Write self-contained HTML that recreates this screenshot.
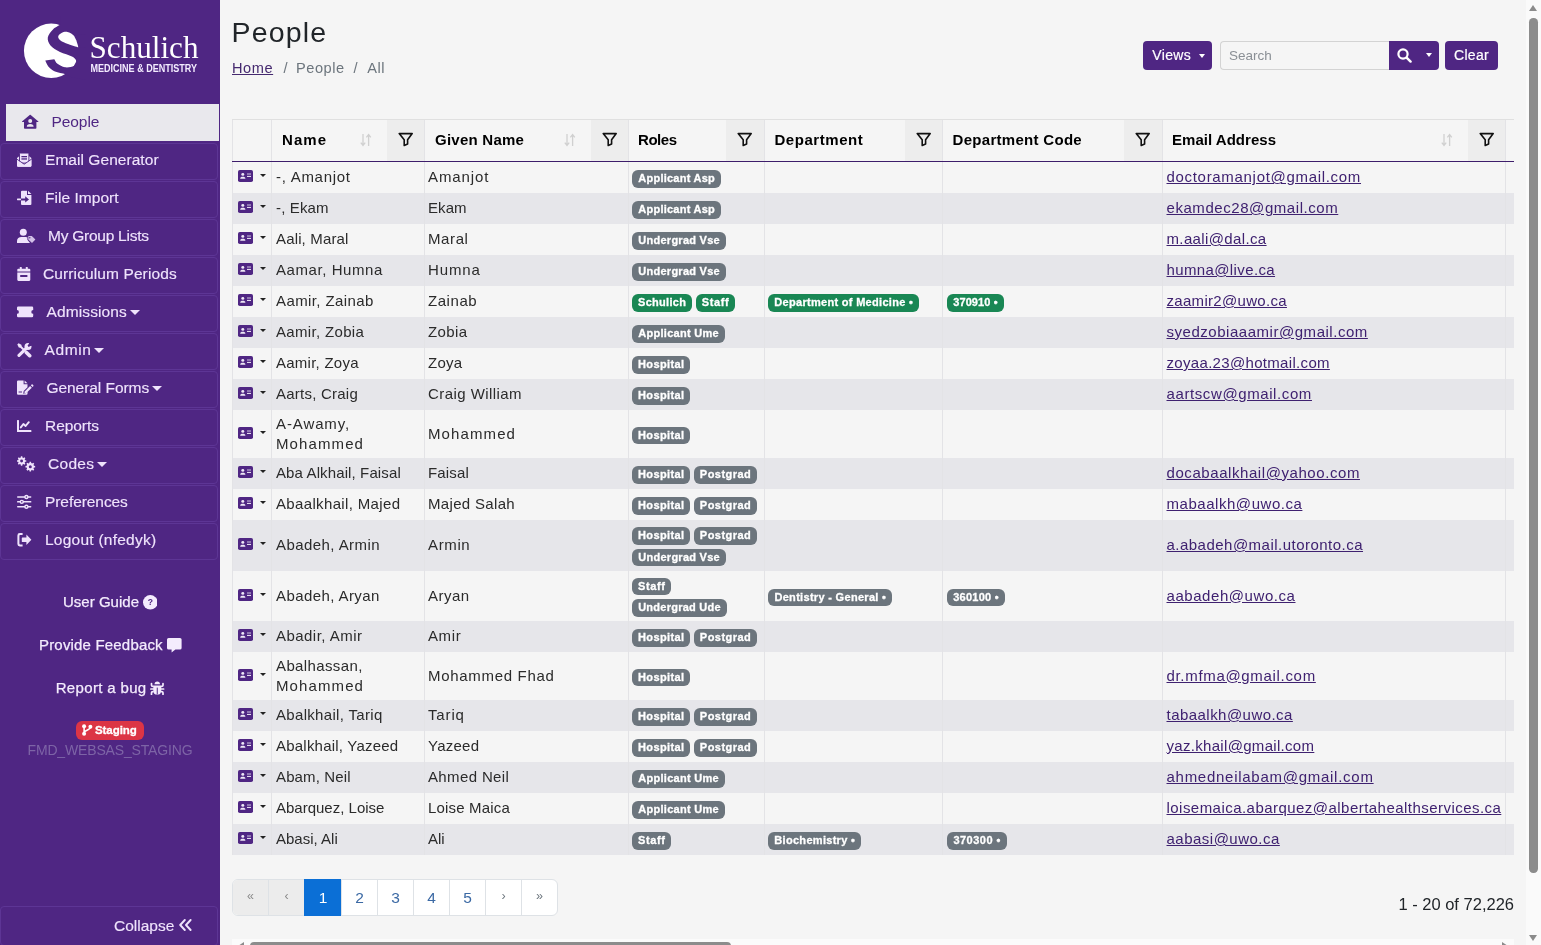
<!DOCTYPE html><html lang="en"><head><meta charset="utf-8"><title>People</title><style>
*{box-sizing:border-box}
html,body{margin:0;padding:0}
body{width:1541px;height:945px;overflow:hidden;position:relative;background:#f5f5f5;
 font-family:"Liberation Sans",sans-serif;font-size:16px;color:#212529}
svg{display:block}
#side{position:absolute;left:0;top:0;width:220px;height:945px;background:#4f2683}
#logo{position:absolute;left:0;top:0;width:220px;height:100px}
.nv{position:absolute;left:0;width:218px;height:37px;border:1px solid #5d3595;border-radius:4px;color:#efe3fc;font-size:15.5px}
.nv.act{left:6px;width:213px;background:#e9e8ed;border:0;border-radius:0;color:#4f2683;top:104px;height:37px}
.nv .ic{position:absolute;top:-2px}
.nv.act .ic{top:0}
.nv .tx{position:absolute;top:0;line-height:31px;white-space:nowrap;-webkit-text-stroke:0.15px currentColor}
.nv.act .tx{line-height:36px}
.nv.act .tx{-webkit-text-stroke:0}
.caret{display:inline-block;width:0;height:0;border-left:5px solid transparent;border-right:5px solid transparent;border-top:5.8px solid currentColor;margin-left:3px;vertical-align:2px}
.sl{position:absolute;color:#f4ecfd;font-size:15px;white-space:nowrap;-webkit-text-stroke:0.25px currentColor}
#main{position:absolute;left:220px;top:0;width:1306px;height:945px;background:#f5f5f5}
h1{position:absolute;left:11.5px;top:13px;margin:0;font-size:28.5px;font-weight:400;line-height:38px;color:#212529;white-space:nowrap;letter-spacing:1.15px}
#bc{position:absolute;left:12px;top:57px;font-size:14.6px;letter-spacing:0.55px;line-height:22px;color:#6c757d;white-space:nowrap}
#bc a{color:#45296f;text-decoration:underline}
.btn{position:absolute;top:41px;height:29px;background:#4f2683;color:#fff;border-radius:4px;font-size:14px;letter-spacing:0.3px;line-height:29px;text-align:center;white-space:nowrap;-webkit-text-stroke:0.2px #fff}
#search{position:absolute;left:1000px;top:41px;width:170px;height:29px;border:1px solid #d3d3d3;border-right:0;border-radius:4px 0 0 4px;background:#f5f5f5;color:#8a8f95;font-size:13.5px;line-height:27px;padding-left:8px}
table{position:absolute;left:12px;top:119px;border-collapse:collapse;table-layout:fixed;width:1281px}
th,td{padding:0;border-left:1px solid #e3e3e6;overflow:hidden}
thead th{height:42px;border-top:1px solid #e0e0e0;border-bottom:1px solid #3d1d6b;background:#f5f5f5;text-align:left;font-size:15px;font-weight:700;color:#000;position:relative;white-space:nowrap}
thead th.f{background:#ededed}
tbody tr:nth-child(even) td{background:#e6e6ea}
tbody td{font-size:15px;line-height:20px;color:#2b2b2b;vertical-align:middle;white-space:nowrap;position:relative}
td.p{padding-left:4px}
td a{color:#3f2170;text-decoration:underline}
.bd{display:inline-block;height:17.6px;line-height:17.4px;border-radius:6px;background:#6c757d;color:#fff;font-size:11px;font-weight:700;padding:0;margin-right:3.7px;vertical-align:top;text-align:center;-webkit-text-stroke:0.3px #fff}
.bd.g{background:#198754}
.bl{height:17.6px;margin:0 0 0 3px;white-space:nowrap;position:relative;top:1.8px}
.bl+.bl{margin-top:4px}
.fit{white-space:nowrap}
#pg{position:absolute;left:12px;top:879px;height:37px;width:326px;border:1px solid #dee2e6;border-radius:6px;background:#fff}
#pg span{position:absolute;top:0;height:35px;line-height:35px;text-align:center;font-size:15.5px;color:#3b69a4;border-left:1px solid #dee2e6}
#cnt{position:absolute;right:12px;top:893px;font-size:16.5px;line-height:22px;color:#212529;white-space:nowrap}
#vs{position:absolute;left:1526px;top:0;width:15px;height:945px;background:#fafafa}
#hs{position:absolute;left:232px;top:939px;width:1282px;height:6px;background:#fbfbfb;overflow:hidden}
</style></head><body>
<div id="side">
<div id="logo"><svg width="220" height="100" viewBox="0 0 220 100"><circle cx="51.2" cy="50.85" r="27.25" fill="#fff"/><path d="M60.6 24.6C59.3 25.4 55.1 27.4 53.0 29.5C50.9 31.6 48.2 34.8 47.8 37.5C47.4 40.2 48.5 43.1 50.5 45.5C52.5 47.9 56.4 50.2 60.0 52.0C63.6 53.8 69.3 55.0 72.0 56.5C74.7 58.0 75.9 59.4 76.2 61.0C76.5 62.6 75.9 65.0 74.0 66.0C72.1 67.0 67.8 67.7 65.0 67.3C62.2 66.9 59.3 65.1 57.5 63.8C55.7 62.4 54.8 60.0 54.3 59.2L45.3 60.6C45.8 61.6 46.9 65.0 48.5 66.8C50.1 68.6 52.2 70.3 55.0 71.5C57.8 72.7 62.8 73.3 65.5 74.2C68.2 75.1 70.1 76.5 71.0 77.0L86 80L86 47.3L78.6 47.5C76.8 46.9 71.0 45.2 68.0 44.0C65.0 42.8 62.1 41.8 60.5 40.5C58.9 39.2 58.0 37.8 58.2 36.5C58.4 35.2 60.0 33.8 61.5 33.0C63.0 32.2 65.4 31.6 67.5 32.0C69.6 32.4 73.1 34.8 74.2 35.4L86 34L86 16L60.6 16Z" fill="#4f2683"/><text x="89.5" y="58" font-family="'Liberation Serif',serif" font-size="32" fill="#fff" textLength="109" lengthAdjust="spacingAndGlyphs">Schulich</text><text x="90.5" y="72" font-family="'Liberation Sans',sans-serif" font-size="10.3" font-weight="700" fill="#f4ecff" textLength="106.5" lengthAdjust="spacingAndGlyphs">MEDICINE &amp; DENTISTRY</text></svg></div>
<div class="nv act"><span class="ic" style="left:16px"><svg width="17" height="38" viewBox="0 0 17 38" fill="currentColor" ><g transform="translate(-0.2,10.6)"><path d="M8.2 0.2 Q8.4 0 8.6 0.2 L16.6 7 Q16.8 7.4 16.4 7.4 L14.6 7.4 L14.6 13.4 Q14.6 14.2 13.8 14.2 L3 14.2 Q2.2 14.2 2.2 13.4 L2.2 7.4 L0.4 7.4 Q0 7.4 0.2 7 Z"/><circle cx="8.4" cy="6.5" r="2" fill="#e9e8ed"/><path d="M5 12.2 C5 10.2 6.2 9.4 8.4 9.4 C10.6 9.4 11.8 10.2 11.8 12.2 Z" fill="#e9e8ed"/></g></svg></span><span class="tx" style="left:45.5px"><span style="letter-spacing:-0.07px;margin-right:0.07px">People</span></span></div>
<div class="nv" style="top:143px"><span class="ic" style="left:16px"><svg width="15" height="38" viewBox="0 0 15 38" fill="currentColor" ><g transform="translate(0,10.8)"><path d="M0 5.2 L2.2 3.4 L12.2 3.4 L14.4 5.2 L14.4 12.8 Q14.4 14 13.2 14 L1.2 14 Q0 14 0 12.8 Z"/><rect x="2.5" y="0.3" width="9.4" height="10" rx="0.8" fill="currentColor" stroke="#4f2683" stroke-width="0.9"/><rect x="4.4" y="3.2" width="5.6" height="1.3" fill="#4f2683"/><rect x="4.4" y="5.5" width="5.6" height="1.3" fill="#4f2683"/><path d="M0 6.6 L7.2 11.6 L14.4 6.6 L14.4 12.8 Q14.4 14 13.2 14 L1.2 14 Q0 14 0 12.8 Z"/><path d="M-0.2 6.3 L7.2 11.4 L14.6 6.3" fill="none" stroke="#4f2683" stroke-width="0.9"/></g></svg></span><span class="tx" style="left:44px"><span style="letter-spacing:0.05px;margin-right:-0.05px">Email Generator</span></span></div>
<div class="nv" style="top:181px"><span class="ic" style="left:16px"><svg width="15" height="38" viewBox="0 0 15 38" fill="currentColor" ><g transform="translate(0,10.8)"><path d="M4 1 Q4 0 5 0 L10 0 L10 4.2 L14.4 4.2 L14.4 13.2 Q14.4 14.2 13.4 14.2 L5 14.2 Q4 14.2 4 13.2 L4 9.6 L8.2 9.6 L8.2 11.8 L12 8.6 L8.2 5.4 L8.2 7.6 L4 7.6 Z"/><path d="M11 0 L14.4 3.3 L11 3.3 Z"/><rect x="0" y="7.75" width="4" height="1.7" rx="0.4"/></g></svg></span><span class="tx" style="left:44px"><span style="letter-spacing:0.04px;margin-right:-0.04px">File Import</span></span></div>
<div class="nv" style="top:219px"><span class="ic" style="left:16px"><svg width="19" height="38" viewBox="0 0 19 38" fill="currentColor" ><g transform="translate(0,10.9)"><circle cx="6.3" cy="3.4" r="3.5"/><path d="M0 14.2 L0 12 C0 9.4 2 8 4.4 8 L8 8 C9.4 8 10.4 8.4 10.4 8.4 L10.4 10.8 L13 14.2 Z"/><path d="M11.3 7.2 L14.8 7.2 L18.4 10.7 L15 14.2 L11.3 10.6 Z" opacity="0.82"/><circle cx="12.8" cy="8.8" r="0.7" fill="#4f2683"/></g></svg></span><span class="tx" style="left:47px"><span style="letter-spacing:-0.25px;margin-right:0.25px">My Group Lists</span></span></div>
<div class="nv" style="top:257px"><span class="ic" style="left:16px"><svg width="14" height="38" viewBox="0 0 14 38" fill="currentColor" ><g transform="translate(0.3,11)"><rect x="2.5" y="0" width="2" height="3" rx="0.6"/><rect x="8.5" y="0" width="2" height="3" rx="0.6"/><path d="M0 2.8 Q0 1.7 1.1 1.7 L11.9 1.7 Q13 1.7 13 2.8 L13 4.5 L0 4.5 Z"/><path d="M0 5.5 L13 5.5 L13 12.8 Q13 13.9 11.9 13.9 L1.1 13.9 Q0 13.9 0 12.8 Z M2.9 8 L2.9 9.9 L10.1 9.9 L10.1 8 Z" fill-rule="evenodd"/></g></svg></span><span class="tx" style="left:42px"><span style="letter-spacing:0.11px;margin-right:-0.11px">Curriculum Periods</span></span></div>
<div class="nv" style="top:295px"><span class="ic" style="left:16px"><svg width="17" height="38" viewBox="0 0 17 38" fill="currentColor" ><g transform="translate(0,12.6)"><path d="M1.2 0 L15 0 Q16.2 0 16.2 1.2 L16.2 3.4 A1.9 1.9 0 0 0 16.2 7.2 L16.2 9.4 Q16.2 10.6 15 10.6 L1.2 10.6 Q0 10.6 0 9.4 L0 7.2 A1.9 1.9 0 0 0 0 3.4 L0 1.2 Q0 0 1.2 0 Z"/></g></svg></span><span class="tx" style="left:45.5px"><span style="letter-spacing:0.12px;margin-right:-0.12px">Admissions</span><i class="caret"></i></span></div>
<div class="nv" style="top:333px"><span class="ic" style="left:16px"><svg width="15" height="38" viewBox="0 0 15 38" fill="currentColor" ><g transform="translate(0,11)"><path d="M11.2 3.4 L2 12.4" stroke="currentColor" stroke-width="3.1" stroke-linecap="round" fill="none"/><circle cx="11" cy="3.4" r="3.5"/><path d="M11.4 3 L15 -0.6 L12.4 -1.4 Z M11 3.4 L14.6 -0.2 L15.6 2.6 Z" fill="#4f2683"/><path d="M11.2 3.2 L14.4 0" stroke="#4f2683" stroke-width="2" fill="none"/><path d="M0.3 1.6 L1.6 0.3 L4.4 1.8 L4.7 3.3 L7.6 6.2 L6.2 7.6 L3.3 4.7 L1.8 4.4 Z"/><path d="M9.4 9.4 L12.7 12.7" stroke="currentColor" stroke-width="3.6" stroke-linecap="round" fill="none"/></g></svg></span><span class="tx" style="left:43.5px"><span style="letter-spacing:0.62px;margin-right:-0.62px">Admin</span><i class="caret"></i></span></div>
<div class="nv" style="top:371px"><span class="ic" style="left:16px"><svg width="17" height="38" viewBox="0 0 17 38" fill="currentColor" ><g transform="translate(0,10.5)"><path d="M0 1.1 Q0 0 1.1 0 L6.6 0 L6.6 3.8 L10.5 3.8 L10.5 6.7 L6.7 10.5 L6.2 13.2 L8.9 12.7 L10.5 11.1 L10.5 13.2 Q10.5 14.3 9.4 14.3 L1.1 14.3 Q0 14.3 0 13.2 Z M1.6 11 L1.6 11.9 L5 11.9 L5 11 Z" fill-rule="evenodd"/><path d="M7.6 0 L10.5 2.8 L7.6 2.8 Z"/><path d="M7.7 10.9 L13.1 5.5 L14.8 7.2 L9.4 12.6 L7.4 12.9 Z"/><path d="M13.8 4.8 L14.6 4 Q15.1 3.5 15.6 4 L16.3 4.7 Q16.8 5.2 16.3 5.7 L15.5 6.5 Z"/></g></svg></span><span class="tx" style="left:45.5px"><span style="letter-spacing:-0.06px;margin-right:0.06px">General Forms</span><i class="caret"></i></span></div>
<div class="nv" style="top:409px"><span class="ic" style="left:16px"><svg width="15" height="38" viewBox="0 0 15 38" fill="currentColor" ><g transform="translate(0,12)"><path d="M0 0.6 Q0 0 0.6 0 L1.4 0 Q2 0 2 0.6 L2 10 L13.8 10 Q14.4 10 14.4 10.6 L14.4 11.4 Q14.4 12 13.8 12 L0 12 Z"/><path d="M3.8 7.4 L6.4 4 L8.6 6 L11.8 2.2" fill="none" stroke="currentColor" stroke-width="1.9" stroke-linecap="round" stroke-linejoin="round"/></g></svg></span><span class="tx" style="left:44px"><span style="letter-spacing:-0.05px;margin-right:0.05px">Reports</span></span></div>
<div class="nv" style="top:447px"><span class="ic" style="left:16px"><svg width="19" height="38" viewBox="0 0 19 38" fill="currentColor" ><g transform="translate(0,10.5)"><path d="M9.25 3.80 L9.25 5.20 L8.07 5.36 L7.66 6.34 L8.38 7.29 L7.39 8.28 L6.44 7.56 L5.46 7.97 L5.30 9.15 L3.90 9.15 L3.74 7.97 L2.76 7.56 L1.81 8.28 L0.82 7.29 L1.54 6.34 L1.13 5.36 L-0.05 5.20 L-0.05 3.80 L1.13 3.64 L1.54 2.66 L0.82 1.71 L1.81 0.72 L2.76 1.44 L3.74 1.03 L3.90 -0.15 L5.30 -0.15 L5.46 1.03 L6.44 1.44 L7.39 0.72 L8.38 1.71 L7.66 2.66 L8.07 3.64 Z"/><circle cx="4.6" cy="4.5" r="1.45" fill="#4f2683"/><path d="M18.14 9.47 L18.14 10.93 L16.91 11.09 L16.49 12.12 L17.24 13.11 L16.21 14.14 L15.22 13.39 L14.19 13.81 L14.03 15.04 L12.57 15.04 L12.41 13.81 L11.38 13.39 L10.39 14.14 L9.36 13.11 L10.11 12.12 L9.69 11.09 L8.46 10.93 L8.46 9.47 L9.69 9.31 L10.11 8.28 L9.36 7.29 L10.39 6.26 L11.38 7.01 L12.41 6.59 L12.57 5.36 L14.03 5.36 L14.19 6.59 L15.22 7.01 L16.21 6.26 L17.24 7.29 L16.49 8.28 L16.91 9.31 Z"/><circle cx="13.3" cy="10.2" r="1.5" fill="#4f2683"/></g></svg></span><span class="tx" style="left:47px"><span style="letter-spacing:0.30px;margin-right:-0.30px">Codes</span><i class="caret"></i></span></div>
<div class="nv" style="top:485px"><span class="ic" style="left:16px"><svg width="15" height="38" viewBox="0 0 15 38" fill="currentColor" ><g transform="translate(0,10.7)"><rect x="0" y="1.5" width="14.4" height="1.5" rx="0.7"/><rect x="0" y="6.4" width="14.4" height="1.5" rx="0.7"/><rect x="0" y="11.3" width="14.4" height="1.5" rx="0.7"/><circle cx="9.4" cy="2.25" r="2.2"/><circle cx="4.8" cy="7.15" r="2.2"/><circle cx="9.4" cy="12.05" r="2.2"/><circle cx="9.4" cy="2.25" r="0.8" fill="#4f2683"/><circle cx="4.8" cy="7.15" r="0.8" fill="#4f2683"/><circle cx="9.4" cy="12.05" r="0.8" fill="#4f2683"/></g></svg></span><span class="tx" style="left:44px"><span style="letter-spacing:-0.07px;margin-right:0.07px">Preferences</span></span></div>
<div class="nv" style="top:523px"><span class="ic" style="left:16px"><svg width="15" height="38" viewBox="0 0 15 38" fill="currentColor" ><g transform="translate(0.4,11)"><path d="M5.2 0 L5.2 2 L2.7 2 Q2 2 2 2.7 L2 10.7 Q2 11.4 2.7 11.4 L5.2 11.4 L5.2 13.4 L2.4 13.4 Q0 13.4 0 11 L0 2.4 Q0 0 2.4 0 Z"/><path d="M9 1.4 L14 6.7 L9 12 L9 9 L5 9 Q4.4 9 4.4 8.4 L4.4 5 Q4.4 4.4 5 4.4 L9 4.4 Z"/></g></svg></span><span class="tx" style="left:44px"><span style="letter-spacing:0.24px;margin-right:-0.24px">Logout (nfedyk)</span></span></div>
<div class="sl" style="top:591px;left:63px;line-height:22px"><span style="letter-spacing:0.02px;margin-right:-0.02px">User Guide</span></div><span style="position:absolute;left:142.7px;top:595px;color:#f4ecfd"><svg width="14.6" height="14.6" viewBox="0 0 14.6 14.6" fill="currentColor" ><circle cx="7.3" cy="7.3" r="7.3"/><text x="7.3" y="10.4" text-anchor="middle" font-family="'Liberation Sans',sans-serif" font-size="8.6" font-weight="700" fill="#4f2683">?</text></svg></span>
<div class="sl" style="top:634px;left:39px;line-height:22px"><span style="letter-spacing:0.18px;margin-right:-0.18px">Provide Feedback</span></div><span style="position:absolute;left:166.7px;top:637.7px;color:#f4ecfd"><svg width="15" height="15" viewBox="0 0 15 15" fill="currentColor" ><path d="M1.6 0 L13 0 Q14.6 0 14.6 1.6 L14.6 10 Q14.6 11.6 13 11.6 L8.4 11.6 L4.6 14.4 L4.6 11.6 L1.6 11.6 Q0 11.6 0 10 L0 1.6 Q0 0 1.6 0 Z"/></svg></span>
<div class="sl" style="top:677px;left:55.7px;line-height:22px"><span style="letter-spacing:0.34px;margin-right:-0.34px">Report a bug</span></div><span style="position:absolute;left:149.7px;top:681.4px;color:#f4ecfd"><svg width="15" height="14" viewBox="0 0 15 14" fill="currentColor" ><path d="M4.5 3.3 A2.75 2.9 0 0 1 10 3.3 Z"/><path d="M3.3 4.4 L11.2 4.4 L11.2 9.4 A3.95 4.2 0 0 1 3.3 9.4 Z"/><path d="M0.9 8 L13.6 8 M1.5 2.6 L1.5 4.2 Q1.5 5.4 3 5.4 M13 2.6 L13 4.2 Q13 5.4 11.5 5.4 M1.5 13.4 L1.5 11.8 Q1.5 10.6 3 10.6 M13 13.4 L13 11.8 Q13 10.6 11.5 10.6" stroke="currentColor" stroke-width="1.7" stroke-linecap="round" fill="none"/><rect x="6.75" y="6.6" width="1" height="6.6" fill="#4f2683"/></svg></span>
<div style="position:absolute;left:76.3px;top:721.3px;width:67.4px;height:19px;border-radius:6px;background:#dc3545;color:#fff;font-size:11.5px;font-weight:700;line-height:18px;white-space:nowrap;-webkit-text-stroke:0.3px #fff"><span style="position:absolute;left:6px;top:2.6px"><svg width="10.5" height="12" viewBox="0 0 10 11.2" fill="currentColor" ><circle cx="2" cy="2" r="1.9"/><circle cx="2" cy="9.2" r="1.9"/><circle cx="8" cy="2.6" r="1.9"/><path d="M2 2 L2 9 M8 2.6 C8 6.4 2 5.2 2 8.4" stroke="currentColor" stroke-width="1.5" fill="none"/></svg></span><span style="position:absolute;left:18.6px;top:0"><span style="letter-spacing:-0.03px;margin-right:0.03px">Staging</span></span></div>
<div style="position:absolute;left:27.5px;top:740px;color:#7d64a6;font-size:14px;line-height:20px;white-space:nowrap"><span style="letter-spacing:-0.16px;margin-right:0.16px">FMD_WEBSAS_STAGING</span></div>
<div class="nv" style="top:906px;height:40px"><span class="tx" style="left:113px;line-height:38px">Collapse</span><span class="ic" style="left:178.3px;top:11.6px"><svg width="13" height="12" viewBox="0 0 13 12" fill="currentColor" ><path d="M5.8 1 L1.2 6 L5.8 11 M11.6 1 L7 6 L11.6 11" stroke="currentColor" stroke-width="1.9" fill="none" stroke-linecap="round" stroke-linejoin="round"/></svg></span></div>
</div>
<div id="main">
<h1>People</h1>
<div id="bc"><a>Home</a><span style="position:absolute;left:51.4px">/</span><span style="position:absolute;left:64px">People</span><span style="position:absolute;left:121.5px">/</span><span style="position:absolute;left:135.3px">All</span></div>
<div class="btn" style="left:923px;width:69px;padding-left:2px">Views <i class="caret" style="border-left-width:3.3px;border-right-width:3.3px;border-top-width:4px;vertical-align:2px;margin-left:3.5px"></i></div>
<div id="search">Search</div>
<div class="btn" style="left:1169px;width:50px;border-radius:0 4px 4px 0"><span style="position:absolute;left:8px;top:7px"><svg width="15" height="15" viewBox="0 0 15 15" fill="currentColor" ><circle cx="6" cy="6" r="4.6" fill="none" stroke="#fff" stroke-width="2.2"/><path d="M9.6 9.6 L13.6 13.6" stroke="#fff" stroke-width="2.4" stroke-linecap="round"/></svg></span><i class="caret" style="position:absolute;left:36.7px;top:12px;margin:0;border-left-width:3.5px;border-right-width:3.5px;border-top-width:4px"></i></div>
<div class="btn" style="left:1225px;width:53px">Clear</div>
<table><colgroup><col style="width:39px"><col style="width:115px"><col style="width:38px"><col style="width:166px"><col style="width:38px"><col style="width:97px"><col style="width:39px"><col style="width:140px"><col style="width:38px"><col style="width:181px"><col style="width:39px"><col style="width:305px"><col style="width:38px"><col style="width:8px"></colgroup>
<thead><tr><th></th><th><span style="position:absolute;left:10px;top:0;line-height:39px"><span style="letter-spacing:1.05px;margin-right:-1.05px">Name</span></span><span style="position:absolute;right:15px;top:13px"><svg width="12" height="14" viewBox="0 0 12 14" fill="currentColor" ><path d="M3 1 L3 12 M0.8 9.6 L3 12.4 L5.2 9.6" stroke="#d0d0d0" stroke-width="1.3" fill="none"/><path d="M8.6 13 L8.6 2 M6.4 4.4 L8.6 1.6 L10.8 4.4" stroke="#d0d0d0" stroke-width="1.3" fill="none"/></svg></span></th><th class="f" style="border-left:0"><span style="position:absolute;left:11.4px;top:12px"><svg width="16" height="16" viewBox="0 0 16 16" fill="currentColor" ><path d="M1.2 1.6 L14.2 1.6 L9.6 7.8 L9.6 12 L6.2 13.4 L6.2 7.8 Z" stroke="#111" stroke-width="1.6" fill="none" stroke-linejoin="round"/></svg></span></th><th><span style="position:absolute;left:10px;top:0;line-height:39px"><span style="letter-spacing:0.25px;margin-right:-0.25px">Given Name</span></span><span style="position:absolute;right:15px;top:13px"><svg width="12" height="14" viewBox="0 0 12 14" fill="currentColor" ><path d="M3 1 L3 12 M0.8 9.6 L3 12.4 L5.2 9.6" stroke="#d0d0d0" stroke-width="1.3" fill="none"/><path d="M8.6 13 L8.6 2 M6.4 4.4 L8.6 1.6 L10.8 4.4" stroke="#d0d0d0" stroke-width="1.3" fill="none"/></svg></span></th><th class="f" style="border-left:0"><span style="position:absolute;left:11.4px;top:12px"><svg width="16" height="16" viewBox="0 0 16 16" fill="currentColor" ><path d="M1.2 1.6 L14.2 1.6 L9.6 7.8 L9.6 12 L6.2 13.4 L6.2 7.8 Z" stroke="#111" stroke-width="1.6" fill="none" stroke-linejoin="round"/></svg></span></th><th><span style="position:absolute;left:9px;top:0;line-height:39px"><span style="letter-spacing:-0.44px;margin-right:0.44px">Roles</span></span></th><th class="f" style="border-left:0"><span style="position:absolute;left:11.9px;top:12px"><svg width="16" height="16" viewBox="0 0 16 16" fill="currentColor" ><path d="M1.2 1.6 L14.2 1.6 L9.6 7.8 L9.6 12 L6.2 13.4 L6.2 7.8 Z" stroke="#111" stroke-width="1.6" fill="none" stroke-linejoin="round"/></svg></span></th><th><span style="position:absolute;left:9.5px;top:0;line-height:39px"><span style="letter-spacing:0.54px;margin-right:-0.54px">Department</span></span></th><th class="f" style="border-left:0"><span style="position:absolute;left:11.4px;top:12px"><svg width="16" height="16" viewBox="0 0 16 16" fill="currentColor" ><path d="M1.2 1.6 L14.2 1.6 L9.6 7.8 L9.6 12 L6.2 13.4 L6.2 7.8 Z" stroke="#111" stroke-width="1.6" fill="none" stroke-linejoin="round"/></svg></span></th><th><span style="position:absolute;left:9.5px;top:0;line-height:39px"><span style="letter-spacing:0.30px;margin-right:-0.30px">Department Code</span></span></th><th class="f" style="border-left:0"><span style="position:absolute;left:11.9px;top:12px"><svg width="16" height="16" viewBox="0 0 16 16" fill="currentColor" ><path d="M1.2 1.6 L14.2 1.6 L9.6 7.8 L9.6 12 L6.2 13.4 L6.2 7.8 Z" stroke="#111" stroke-width="1.6" fill="none" stroke-linejoin="round"/></svg></span></th><th><span style="position:absolute;left:9px;top:0;line-height:39px"><span style="letter-spacing:0.03px;margin-right:-0.03px">Email Address</span></span><span style="position:absolute;right:15px;top:13px"><svg width="12" height="14" viewBox="0 0 12 14" fill="currentColor" ><path d="M3 1 L3 12 M0.8 9.6 L3 12.4 L5.2 9.6" stroke="#d0d0d0" stroke-width="1.3" fill="none"/><path d="M8.6 13 L8.6 2 M6.4 4.4 L8.6 1.6 L10.8 4.4" stroke="#d0d0d0" stroke-width="1.3" fill="none"/></svg></span></th><th class="f" style="border-left:0"><span style="position:absolute;left:11.4px;top:12px"><svg width="16" height="16" viewBox="0 0 16 16" fill="currentColor" ><path d="M1.2 1.6 L14.2 1.6 L9.6 7.8 L9.6 12 L6.2 13.4 L6.2 7.8 Z" stroke="#111" stroke-width="1.6" fill="none" stroke-linejoin="round"/></svg></span></th><th></th></tr></thead><tbody>
<tr style="height:31px"><td><span style="position:absolute;left:5px;top:50%;margin-top:-7px"><svg width="15" height="12" viewBox="0 0 15 13" fill="currentColor" preserveAspectRatio="none"><rect x="0" y="0" width="15" height="13" rx="1.8" fill="#4f2683"/><circle cx="4.8" cy="4.8" r="1.5" fill="#efeaf6"/><path d="M2.2 9.6 C2.2 8 3.2 7.4 4.8 7.4 C6.4 7.4 7.4 8 7.4 9.6 Z" fill="#efeaf6"/><rect x="9" y="3.8" width="4" height="1.1" fill="#efeaf6" opacity="0.8"/><rect x="9" y="6.4" width="4" height="1.1" fill="#efeaf6"/></svg></span><i class="caret" style="position:absolute;left:27px;top:50%;margin:-3px 0 0 0;border-left-width:3px;border-right-width:3px;border-top-width:3.5px;color:#222"></i></td><td class="p" colspan="2"><span style="letter-spacing:0.72px;margin-right:-0.72px">-, Amanjot</span></td><td class="p" colspan="2" style="padding-left:3px"><span style="letter-spacing:0.88px;margin-right:-0.88px">Amanjot</span></td><td colspan="2"><div class="bl"><span class="bd" style="width:89px"><span style="letter-spacing:0.24px;margin-right:-0.24px">Applicant Asp</span></span></div></td><td colspan="2"></td><td colspan="2"></td><td class="p" colspan="2" style="padding-left:3.5px"><a><span style="letter-spacing:0.69px;margin-right:-0.69px">doctoramanjot@gmail.com</span></a></td><td></td></tr>
<tr style="height:31px"><td><span style="position:absolute;left:5px;top:50%;margin-top:-7px"><svg width="15" height="12" viewBox="0 0 15 13" fill="currentColor" preserveAspectRatio="none"><rect x="0" y="0" width="15" height="13" rx="1.8" fill="#4f2683"/><circle cx="4.8" cy="4.8" r="1.5" fill="#efeaf6"/><path d="M2.2 9.6 C2.2 8 3.2 7.4 4.8 7.4 C6.4 7.4 7.4 8 7.4 9.6 Z" fill="#efeaf6"/><rect x="9" y="3.8" width="4" height="1.1" fill="#efeaf6" opacity="0.8"/><rect x="9" y="6.4" width="4" height="1.1" fill="#efeaf6"/></svg></span><i class="caret" style="position:absolute;left:27px;top:50%;margin:-3px 0 0 0;border-left-width:3px;border-right-width:3px;border-top-width:3.5px;color:#222"></i></td><td class="p" colspan="2"><span style="letter-spacing:0.15px;margin-right:-0.15px">-, Ekam</span></td><td class="p" colspan="2" style="padding-left:3px"><span style="letter-spacing:0.09px;margin-right:-0.09px">Ekam</span></td><td colspan="2"><div class="bl"><span class="bd" style="width:89px"><span style="letter-spacing:0.24px;margin-right:-0.24px">Applicant Asp</span></span></div></td><td colspan="2"></td><td colspan="2"></td><td class="p" colspan="2" style="padding-left:3.5px"><a><span style="letter-spacing:0.56px;margin-right:-0.56px">ekamdec28@gmail.com</span></a></td><td></td></tr>
<tr style="height:31px"><td><span style="position:absolute;left:5px;top:50%;margin-top:-7px"><svg width="15" height="12" viewBox="0 0 15 13" fill="currentColor" preserveAspectRatio="none"><rect x="0" y="0" width="15" height="13" rx="1.8" fill="#4f2683"/><circle cx="4.8" cy="4.8" r="1.5" fill="#efeaf6"/><path d="M2.2 9.6 C2.2 8 3.2 7.4 4.8 7.4 C6.4 7.4 7.4 8 7.4 9.6 Z" fill="#efeaf6"/><rect x="9" y="3.8" width="4" height="1.1" fill="#efeaf6" opacity="0.8"/><rect x="9" y="6.4" width="4" height="1.1" fill="#efeaf6"/></svg></span><i class="caret" style="position:absolute;left:27px;top:50%;margin:-3px 0 0 0;border-left-width:3px;border-right-width:3px;border-top-width:3.5px;color:#222"></i></td><td class="p" colspan="2"><span style="letter-spacing:0.15px;margin-right:-0.15px">Aali, Maral</span></td><td class="p" colspan="2" style="padding-left:3px"><span style="letter-spacing:0.60px;margin-right:-0.60px">Maral</span></td><td colspan="2"><div class="bl"><span class="bd" style="width:94px"><span style="letter-spacing:0.27px;margin-right:-0.27px">Undergrad Vse</span></span></div></td><td colspan="2"></td><td colspan="2"></td><td class="p" colspan="2" style="padding-left:3.5px"><a><span style="letter-spacing:0.37px;margin-right:-0.37px">m.aali@dal.ca</span></a></td><td></td></tr>
<tr style="height:31px"><td><span style="position:absolute;left:5px;top:50%;margin-top:-7px"><svg width="15" height="12" viewBox="0 0 15 13" fill="currentColor" preserveAspectRatio="none"><rect x="0" y="0" width="15" height="13" rx="1.8" fill="#4f2683"/><circle cx="4.8" cy="4.8" r="1.5" fill="#efeaf6"/><path d="M2.2 9.6 C2.2 8 3.2 7.4 4.8 7.4 C6.4 7.4 7.4 8 7.4 9.6 Z" fill="#efeaf6"/><rect x="9" y="3.8" width="4" height="1.1" fill="#efeaf6" opacity="0.8"/><rect x="9" y="6.4" width="4" height="1.1" fill="#efeaf6"/></svg></span><i class="caret" style="position:absolute;left:27px;top:50%;margin:-3px 0 0 0;border-left-width:3px;border-right-width:3px;border-top-width:3.5px;color:#222"></i></td><td class="p" colspan="2"><span style="letter-spacing:0.57px;margin-right:-0.57px">Aamar, Humna</span></td><td class="p" colspan="2" style="padding-left:3px"><span style="letter-spacing:0.86px;margin-right:-0.86px">Humna</span></td><td colspan="2"><div class="bl"><span class="bd" style="width:94px"><span style="letter-spacing:0.27px;margin-right:-0.27px">Undergrad Vse</span></span></div></td><td colspan="2"></td><td colspan="2"></td><td class="p" colspan="2" style="padding-left:3.5px"><a><span style="letter-spacing:0.38px;margin-right:-0.38px">humna@live.ca</span></a></td><td></td></tr>
<tr style="height:31px"><td><span style="position:absolute;left:5px;top:50%;margin-top:-7px"><svg width="15" height="12" viewBox="0 0 15 13" fill="currentColor" preserveAspectRatio="none"><rect x="0" y="0" width="15" height="13" rx="1.8" fill="#4f2683"/><circle cx="4.8" cy="4.8" r="1.5" fill="#efeaf6"/><path d="M2.2 9.6 C2.2 8 3.2 7.4 4.8 7.4 C6.4 7.4 7.4 8 7.4 9.6 Z" fill="#efeaf6"/><rect x="9" y="3.8" width="4" height="1.1" fill="#efeaf6" opacity="0.8"/><rect x="9" y="6.4" width="4" height="1.1" fill="#efeaf6"/></svg></span><i class="caret" style="position:absolute;left:27px;top:50%;margin:-3px 0 0 0;border-left-width:3px;border-right-width:3px;border-top-width:3.5px;color:#222"></i></td><td class="p" colspan="2"><span style="letter-spacing:0.40px;margin-right:-0.40px">Aamir, Zainab</span></td><td class="p" colspan="2" style="padding-left:3px"><span style="letter-spacing:0.55px;margin-right:-0.55px">Zainab</span></td><td colspan="2"><div class="bl"><span class="bd g" style="width:60px"><span style="letter-spacing:0.31px;margin-right:-0.31px">Schulich</span></span><span class="bd g" style="width:39px"><span style="letter-spacing:0.64px;margin-right:-0.64px">Staff</span></span></div></td><td colspan="2"><div class="bl"><span class="bd g" style="width:151.2px"><span style="letter-spacing:0.30px;margin-right:-0.30px">Department of Medicine •</span></span></div></td><td colspan="2"><div class="bl" style="margin-left:3.9px"><span class="bd g" style="width:57px"><span style="letter-spacing:0.12px;margin-right:-0.12px">370910 •</span></span></div></td><td class="p" colspan="2" style="padding-left:3.5px"><a><span style="letter-spacing:0.31px;margin-right:-0.31px">zaamir2@uwo.ca</span></a></td><td></td></tr>
<tr style="height:31px"><td><span style="position:absolute;left:5px;top:50%;margin-top:-7px"><svg width="15" height="12" viewBox="0 0 15 13" fill="currentColor" preserveAspectRatio="none"><rect x="0" y="0" width="15" height="13" rx="1.8" fill="#4f2683"/><circle cx="4.8" cy="4.8" r="1.5" fill="#efeaf6"/><path d="M2.2 9.6 C2.2 8 3.2 7.4 4.8 7.4 C6.4 7.4 7.4 8 7.4 9.6 Z" fill="#efeaf6"/><rect x="9" y="3.8" width="4" height="1.1" fill="#efeaf6" opacity="0.8"/><rect x="9" y="6.4" width="4" height="1.1" fill="#efeaf6"/></svg></span><i class="caret" style="position:absolute;left:27px;top:50%;margin:-3px 0 0 0;border-left-width:3px;border-right-width:3px;border-top-width:3.5px;color:#222"></i></td><td class="p" colspan="2"><span style="letter-spacing:0.33px;margin-right:-0.33px">Aamir, Zobia</span></td><td class="p" colspan="2" style="padding-left:3px"><span style="letter-spacing:0.39px;margin-right:-0.39px">Zobia</span></td><td colspan="2"><div class="bl"><span class="bd" style="width:93px"><span style="letter-spacing:0.29px;margin-right:-0.29px">Applicant Ume</span></span></div></td><td colspan="2"></td><td colspan="2"></td><td class="p" colspan="2" style="padding-left:3.5px"><a><span style="letter-spacing:0.53px;margin-right:-0.53px">syedzobiaaamir@gmail.com</span></a></td><td></td></tr>
<tr style="height:31px"><td><span style="position:absolute;left:5px;top:50%;margin-top:-7px"><svg width="15" height="12" viewBox="0 0 15 13" fill="currentColor" preserveAspectRatio="none"><rect x="0" y="0" width="15" height="13" rx="1.8" fill="#4f2683"/><circle cx="4.8" cy="4.8" r="1.5" fill="#efeaf6"/><path d="M2.2 9.6 C2.2 8 3.2 7.4 4.8 7.4 C6.4 7.4 7.4 8 7.4 9.6 Z" fill="#efeaf6"/><rect x="9" y="3.8" width="4" height="1.1" fill="#efeaf6" opacity="0.8"/><rect x="9" y="6.4" width="4" height="1.1" fill="#efeaf6"/></svg></span><i class="caret" style="position:absolute;left:27px;top:50%;margin:-3px 0 0 0;border-left-width:3px;border-right-width:3px;border-top-width:3.5px;color:#222"></i></td><td class="p" colspan="2"><span style="letter-spacing:0.25px;margin-right:-0.25px">Aamir, Zoya</span></td><td class="p" colspan="2" style="padding-left:3px"><span style="letter-spacing:0.25px;margin-right:-0.25px">Zoya</span></td><td colspan="2"><div class="bl"><span class="bd" style="width:58px"><span style="letter-spacing:0.37px;margin-right:-0.37px">Hospital</span></span></div></td><td colspan="2"></td><td colspan="2"></td><td class="p" colspan="2" style="padding-left:3.5px"><a><span style="letter-spacing:0.32px;margin-right:-0.32px">zoyaa.23@hotmail.com</span></a></td><td></td></tr>
<tr style="height:31px"><td><span style="position:absolute;left:5px;top:50%;margin-top:-7px"><svg width="15" height="12" viewBox="0 0 15 13" fill="currentColor" preserveAspectRatio="none"><rect x="0" y="0" width="15" height="13" rx="1.8" fill="#4f2683"/><circle cx="4.8" cy="4.8" r="1.5" fill="#efeaf6"/><path d="M2.2 9.6 C2.2 8 3.2 7.4 4.8 7.4 C6.4 7.4 7.4 8 7.4 9.6 Z" fill="#efeaf6"/><rect x="9" y="3.8" width="4" height="1.1" fill="#efeaf6" opacity="0.8"/><rect x="9" y="6.4" width="4" height="1.1" fill="#efeaf6"/></svg></span><i class="caret" style="position:absolute;left:27px;top:50%;margin:-3px 0 0 0;border-left-width:3px;border-right-width:3px;border-top-width:3.5px;color:#222"></i></td><td class="p" colspan="2"><span style="letter-spacing:0.23px;margin-right:-0.23px">Aarts, Craig</span></td><td class="p" colspan="2" style="padding-left:3px"><span style="letter-spacing:0.44px;margin-right:-0.44px">Craig William</span></td><td colspan="2"><div class="bl"><span class="bd" style="width:58px"><span style="letter-spacing:0.37px;margin-right:-0.37px">Hospital</span></span></div></td><td colspan="2"></td><td colspan="2"></td><td class="p" colspan="2" style="padding-left:3.5px"><a><span style="letter-spacing:0.60px;margin-right:-0.60px">aartscw@gmail.com</span></a></td><td></td></tr>
<tr style="height:48px"><td><span style="position:absolute;left:5px;top:50%;margin-top:-7px"><svg width="15" height="12" viewBox="0 0 15 13" fill="currentColor" preserveAspectRatio="none"><rect x="0" y="0" width="15" height="13" rx="1.8" fill="#4f2683"/><circle cx="4.8" cy="4.8" r="1.5" fill="#efeaf6"/><path d="M2.2 9.6 C2.2 8 3.2 7.4 4.8 7.4 C6.4 7.4 7.4 8 7.4 9.6 Z" fill="#efeaf6"/><rect x="9" y="3.8" width="4" height="1.1" fill="#efeaf6" opacity="0.8"/><rect x="9" y="6.4" width="4" height="1.1" fill="#efeaf6"/></svg></span><i class="caret" style="position:absolute;left:27px;top:50%;margin:-3px 0 0 0;border-left-width:3px;border-right-width:3px;border-top-width:3.5px;color:#222"></i></td><td class="p" colspan="2"><span style="letter-spacing:0.89px;margin-right:-0.89px">A-Awamy,</span><br><span style="letter-spacing:1.11px;margin-right:-1.11px">Mohammed</span></td><td class="p" colspan="2" style="padding-left:3px"><span style="letter-spacing:1.11px;margin-right:-1.11px">Mohammed</span></td><td colspan="2"><div class="bl"><span class="bd" style="width:58px"><span style="letter-spacing:0.37px;margin-right:-0.37px">Hospital</span></span></div></td><td colspan="2"></td><td colspan="2"></td><td class="p" colspan="2" style="padding-left:3.5px"></td><td></td></tr>
<tr style="height:31px"><td><span style="position:absolute;left:5px;top:50%;margin-top:-7px"><svg width="15" height="12" viewBox="0 0 15 13" fill="currentColor" preserveAspectRatio="none"><rect x="0" y="0" width="15" height="13" rx="1.8" fill="#4f2683"/><circle cx="4.8" cy="4.8" r="1.5" fill="#efeaf6"/><path d="M2.2 9.6 C2.2 8 3.2 7.4 4.8 7.4 C6.4 7.4 7.4 8 7.4 9.6 Z" fill="#efeaf6"/><rect x="9" y="3.8" width="4" height="1.1" fill="#efeaf6" opacity="0.8"/><rect x="9" y="6.4" width="4" height="1.1" fill="#efeaf6"/></svg></span><i class="caret" style="position:absolute;left:27px;top:50%;margin:-3px 0 0 0;border-left-width:3px;border-right-width:3px;border-top-width:3.5px;color:#222"></i></td><td class="p" colspan="2"><span style="letter-spacing:0.12px;margin-right:-0.12px">Aba Alkhail, Faisal</span></td><td class="p" colspan="2" style="padding-left:3px"><span style="letter-spacing:0.14px;margin-right:-0.14px">Faisal</span></td><td colspan="2"><div class="bl"><span class="bd" style="width:58px"><span style="letter-spacing:0.37px;margin-right:-0.37px">Hospital</span></span><span class="bd" style="width:63.3px"><span style="letter-spacing:0.47px;margin-right:-0.47px">Postgrad</span></span></div></td><td colspan="2"></td><td colspan="2"></td><td class="p" colspan="2" style="padding-left:3.5px"><a><span style="letter-spacing:0.57px;margin-right:-0.57px">docabaalkhail@yahoo.com</span></a></td><td></td></tr>
<tr style="height:31px"><td><span style="position:absolute;left:5px;top:50%;margin-top:-7px"><svg width="15" height="12" viewBox="0 0 15 13" fill="currentColor" preserveAspectRatio="none"><rect x="0" y="0" width="15" height="13" rx="1.8" fill="#4f2683"/><circle cx="4.8" cy="4.8" r="1.5" fill="#efeaf6"/><path d="M2.2 9.6 C2.2 8 3.2 7.4 4.8 7.4 C6.4 7.4 7.4 8 7.4 9.6 Z" fill="#efeaf6"/><rect x="9" y="3.8" width="4" height="1.1" fill="#efeaf6" opacity="0.8"/><rect x="9" y="6.4" width="4" height="1.1" fill="#efeaf6"/></svg></span><i class="caret" style="position:absolute;left:27px;top:50%;margin:-3px 0 0 0;border-left-width:3px;border-right-width:3px;border-top-width:3.5px;color:#222"></i></td><td class="p" colspan="2"><span style="letter-spacing:0.35px;margin-right:-0.35px">Abaalkhail, Majed</span></td><td class="p" colspan="2" style="padding-left:3px"><span style="letter-spacing:0.33px;margin-right:-0.33px">Majed Salah</span></td><td colspan="2"><div class="bl"><span class="bd" style="width:58px"><span style="letter-spacing:0.37px;margin-right:-0.37px">Hospital</span></span><span class="bd" style="width:63.3px"><span style="letter-spacing:0.47px;margin-right:-0.47px">Postgrad</span></span></div></td><td colspan="2"></td><td colspan="2"></td><td class="p" colspan="2" style="padding-left:3.5px"><a><span style="letter-spacing:0.54px;margin-right:-0.54px">mabaalkh@uwo.ca</span></a></td><td></td></tr>
<tr style="height:51px"><td><span style="position:absolute;left:5px;top:50%;margin-top:-7px"><svg width="15" height="12" viewBox="0 0 15 13" fill="currentColor" preserveAspectRatio="none"><rect x="0" y="0" width="15" height="13" rx="1.8" fill="#4f2683"/><circle cx="4.8" cy="4.8" r="1.5" fill="#efeaf6"/><path d="M2.2 9.6 C2.2 8 3.2 7.4 4.8 7.4 C6.4 7.4 7.4 8 7.4 9.6 Z" fill="#efeaf6"/><rect x="9" y="3.8" width="4" height="1.1" fill="#efeaf6" opacity="0.8"/><rect x="9" y="6.4" width="4" height="1.1" fill="#efeaf6"/></svg></span><i class="caret" style="position:absolute;left:27px;top:50%;margin:-3px 0 0 0;border-left-width:3px;border-right-width:3px;border-top-width:3.5px;color:#222"></i></td><td class="p" colspan="2"><span style="letter-spacing:0.43px;margin-right:-0.43px">Abadeh, Armin</span></td><td class="p" colspan="2" style="padding-left:3px"><span style="letter-spacing:0.63px;margin-right:-0.63px">Armin</span></td><td colspan="2"><div class="bl"><span class="bd" style="width:58px"><span style="letter-spacing:0.37px;margin-right:-0.37px">Hospital</span></span><span class="bd" style="width:63.3px"><span style="letter-spacing:0.47px;margin-right:-0.47px">Postgrad</span></span></div><div class="bl"><span class="bd" style="width:94px"><span style="letter-spacing:0.27px;margin-right:-0.27px">Undergrad Vse</span></span></div></td><td colspan="2"></td><td colspan="2"></td><td class="p" colspan="2" style="padding-left:3.5px"><a><span style="letter-spacing:0.48px;margin-right:-0.48px">a.abadeh@mail.utoronto.ca</span></a></td><td></td></tr>
<tr style="height:50px"><td><span style="position:absolute;left:5px;top:50%;margin-top:-7px"><svg width="15" height="12" viewBox="0 0 15 13" fill="currentColor" preserveAspectRatio="none"><rect x="0" y="0" width="15" height="13" rx="1.8" fill="#4f2683"/><circle cx="4.8" cy="4.8" r="1.5" fill="#efeaf6"/><path d="M2.2 9.6 C2.2 8 3.2 7.4 4.8 7.4 C6.4 7.4 7.4 8 7.4 9.6 Z" fill="#efeaf6"/><rect x="9" y="3.8" width="4" height="1.1" fill="#efeaf6" opacity="0.8"/><rect x="9" y="6.4" width="4" height="1.1" fill="#efeaf6"/></svg></span><i class="caret" style="position:absolute;left:27px;top:50%;margin:-3px 0 0 0;border-left-width:3px;border-right-width:3px;border-top-width:3.5px;color:#222"></i></td><td class="p" colspan="2"><span style="letter-spacing:0.41px;margin-right:-0.41px">Abadeh, Aryan</span></td><td class="p" colspan="2" style="padding-left:3px"><span style="letter-spacing:0.50px;margin-right:-0.50px">Aryan</span></td><td colspan="2"><div class="bl"><span class="bd" style="width:39px"><span style="letter-spacing:0.64px;margin-right:-0.64px">Staff</span></span></div><div class="bl"><span class="bd" style="width:94.8px"><span style="letter-spacing:0.25px;margin-right:-0.25px">Undergrad Ude</span></span></div></td><td colspan="2"><div class="bl"><span class="bd" style="width:124.4px"><span style="letter-spacing:0.31px;margin-right:-0.31px">Dentistry - General •</span></span></div></td><td colspan="2"><div class="bl" style="margin-left:3.9px"><span class="bd" style="width:58px"><span style="letter-spacing:0.27px;margin-right:-0.27px">360100 •</span></span></div></td><td class="p" colspan="2" style="padding-left:3.5px"><a><span style="letter-spacing:0.56px;margin-right:-0.56px">aabadeh@uwo.ca</span></a></td><td></td></tr>
<tr style="height:31px"><td><span style="position:absolute;left:5px;top:50%;margin-top:-7px"><svg width="15" height="12" viewBox="0 0 15 13" fill="currentColor" preserveAspectRatio="none"><rect x="0" y="0" width="15" height="13" rx="1.8" fill="#4f2683"/><circle cx="4.8" cy="4.8" r="1.5" fill="#efeaf6"/><path d="M2.2 9.6 C2.2 8 3.2 7.4 4.8 7.4 C6.4 7.4 7.4 8 7.4 9.6 Z" fill="#efeaf6"/><rect x="9" y="3.8" width="4" height="1.1" fill="#efeaf6" opacity="0.8"/><rect x="9" y="6.4" width="4" height="1.1" fill="#efeaf6"/></svg></span><i class="caret" style="position:absolute;left:27px;top:50%;margin:-3px 0 0 0;border-left-width:3px;border-right-width:3px;border-top-width:3.5px;color:#222"></i></td><td class="p" colspan="2"><span style="letter-spacing:0.46px;margin-right:-0.46px">Abadir, Amir</span></td><td class="p" colspan="2" style="padding-left:3px"><span style="letter-spacing:0.62px;margin-right:-0.62px">Amir</span></td><td colspan="2"><div class="bl"><span class="bd" style="width:58px"><span style="letter-spacing:0.37px;margin-right:-0.37px">Hospital</span></span><span class="bd" style="width:63.3px"><span style="letter-spacing:0.47px;margin-right:-0.47px">Postgrad</span></span></div></td><td colspan="2"></td><td colspan="2"></td><td class="p" colspan="2" style="padding-left:3.5px"></td><td></td></tr>
<tr style="height:48px"><td><span style="position:absolute;left:5px;top:50%;margin-top:-7px"><svg width="15" height="12" viewBox="0 0 15 13" fill="currentColor" preserveAspectRatio="none"><rect x="0" y="0" width="15" height="13" rx="1.8" fill="#4f2683"/><circle cx="4.8" cy="4.8" r="1.5" fill="#efeaf6"/><path d="M2.2 9.6 C2.2 8 3.2 7.4 4.8 7.4 C6.4 7.4 7.4 8 7.4 9.6 Z" fill="#efeaf6"/><rect x="9" y="3.8" width="4" height="1.1" fill="#efeaf6" opacity="0.8"/><rect x="9" y="6.4" width="4" height="1.1" fill="#efeaf6"/></svg></span><i class="caret" style="position:absolute;left:27px;top:50%;margin:-3px 0 0 0;border-left-width:3px;border-right-width:3px;border-top-width:3.5px;color:#222"></i></td><td class="p" colspan="2"><span style="letter-spacing:0.38px;margin-right:-0.38px">Abalhassan,</span><br><span style="letter-spacing:1.11px;margin-right:-1.11px">Mohammed</span></td><td class="p" colspan="2" style="padding-left:3px"><span style="letter-spacing:0.69px;margin-right:-0.69px">Mohammed Fhad</span></td><td colspan="2"><div class="bl"><span class="bd" style="width:58px"><span style="letter-spacing:0.37px;margin-right:-0.37px">Hospital</span></span></div></td><td colspan="2"></td><td colspan="2"></td><td class="p" colspan="2" style="padding-left:3.5px"><a><span style="letter-spacing:0.68px;margin-right:-0.68px">dr.mfma@gmail.com</span></a></td><td></td></tr>
<tr style="height:31px"><td><span style="position:absolute;left:5px;top:50%;margin-top:-7px"><svg width="15" height="12" viewBox="0 0 15 13" fill="currentColor" preserveAspectRatio="none"><rect x="0" y="0" width="15" height="13" rx="1.8" fill="#4f2683"/><circle cx="4.8" cy="4.8" r="1.5" fill="#efeaf6"/><path d="M2.2 9.6 C2.2 8 3.2 7.4 4.8 7.4 C6.4 7.4 7.4 8 7.4 9.6 Z" fill="#efeaf6"/><rect x="9" y="3.8" width="4" height="1.1" fill="#efeaf6" opacity="0.8"/><rect x="9" y="6.4" width="4" height="1.1" fill="#efeaf6"/></svg></span><i class="caret" style="position:absolute;left:27px;top:50%;margin:-3px 0 0 0;border-left-width:3px;border-right-width:3px;border-top-width:3.5px;color:#222"></i></td><td class="p" colspan="2"><span style="letter-spacing:0.32px;margin-right:-0.32px">Abalkhail, Tariq</span></td><td class="p" colspan="2" style="padding-left:3px"><span style="letter-spacing:0.85px;margin-right:-0.85px">Tariq</span></td><td colspan="2"><div class="bl"><span class="bd" style="width:58px"><span style="letter-spacing:0.37px;margin-right:-0.37px">Hospital</span></span><span class="bd" style="width:63.3px"><span style="letter-spacing:0.47px;margin-right:-0.47px">Postgrad</span></span></div></td><td colspan="2"></td><td colspan="2"></td><td class="p" colspan="2" style="padding-left:3.5px"><a><span style="letter-spacing:0.46px;margin-right:-0.46px">tabaalkh@uwo.ca</span></a></td><td></td></tr>
<tr style="height:31px"><td><span style="position:absolute;left:5px;top:50%;margin-top:-7px"><svg width="15" height="12" viewBox="0 0 15 13" fill="currentColor" preserveAspectRatio="none"><rect x="0" y="0" width="15" height="13" rx="1.8" fill="#4f2683"/><circle cx="4.8" cy="4.8" r="1.5" fill="#efeaf6"/><path d="M2.2 9.6 C2.2 8 3.2 7.4 4.8 7.4 C6.4 7.4 7.4 8 7.4 9.6 Z" fill="#efeaf6"/><rect x="9" y="3.8" width="4" height="1.1" fill="#efeaf6" opacity="0.8"/><rect x="9" y="6.4" width="4" height="1.1" fill="#efeaf6"/></svg></span><i class="caret" style="position:absolute;left:27px;top:50%;margin:-3px 0 0 0;border-left-width:3px;border-right-width:3px;border-top-width:3.5px;color:#222"></i></td><td class="p" colspan="2"><span style="letter-spacing:0.22px;margin-right:-0.22px">Abalkhail, Yazeed</span></td><td class="p" colspan="2" style="padding-left:3px"><span style="letter-spacing:0.25px;margin-right:-0.25px">Yazeed</span></td><td colspan="2"><div class="bl"><span class="bd" style="width:58px"><span style="letter-spacing:0.37px;margin-right:-0.37px">Hospital</span></span><span class="bd" style="width:63.3px"><span style="letter-spacing:0.47px;margin-right:-0.47px">Postgrad</span></span></div></td><td colspan="2"></td><td colspan="2"></td><td class="p" colspan="2" style="padding-left:3.5px"><a><span style="letter-spacing:0.31px;margin-right:-0.31px">yaz.khail@gmail.com</span></a></td><td></td></tr>
<tr style="height:31px"><td><span style="position:absolute;left:5px;top:50%;margin-top:-7px"><svg width="15" height="12" viewBox="0 0 15 13" fill="currentColor" preserveAspectRatio="none"><rect x="0" y="0" width="15" height="13" rx="1.8" fill="#4f2683"/><circle cx="4.8" cy="4.8" r="1.5" fill="#efeaf6"/><path d="M2.2 9.6 C2.2 8 3.2 7.4 4.8 7.4 C6.4 7.4 7.4 8 7.4 9.6 Z" fill="#efeaf6"/><rect x="9" y="3.8" width="4" height="1.1" fill="#efeaf6" opacity="0.8"/><rect x="9" y="6.4" width="4" height="1.1" fill="#efeaf6"/></svg></span><i class="caret" style="position:absolute;left:27px;top:50%;margin:-3px 0 0 0;border-left-width:3px;border-right-width:3px;border-top-width:3.5px;color:#222"></i></td><td class="p" colspan="2"><span style="letter-spacing:0.13px;margin-right:-0.13px">Abam, Neil</span></td><td class="p" colspan="2" style="padding-left:3px"><span style="letter-spacing:0.37px;margin-right:-0.37px">Ahmed Neil</span></td><td colspan="2"><div class="bl"><span class="bd" style="width:93px"><span style="letter-spacing:0.29px;margin-right:-0.29px">Applicant Ume</span></span></div></td><td colspan="2"></td><td colspan="2"></td><td class="p" colspan="2" style="padding-left:3.5px"><a><span style="letter-spacing:0.73px;margin-right:-0.73px">ahmedneilabam@gmail.com</span></a></td><td></td></tr>
<tr style="height:31px"><td><span style="position:absolute;left:5px;top:50%;margin-top:-7px"><svg width="15" height="12" viewBox="0 0 15 13" fill="currentColor" preserveAspectRatio="none"><rect x="0" y="0" width="15" height="13" rx="1.8" fill="#4f2683"/><circle cx="4.8" cy="4.8" r="1.5" fill="#efeaf6"/><path d="M2.2 9.6 C2.2 8 3.2 7.4 4.8 7.4 C6.4 7.4 7.4 8 7.4 9.6 Z" fill="#efeaf6"/><rect x="9" y="3.8" width="4" height="1.1" fill="#efeaf6" opacity="0.8"/><rect x="9" y="6.4" width="4" height="1.1" fill="#efeaf6"/></svg></span><i class="caret" style="position:absolute;left:27px;top:50%;margin:-3px 0 0 0;border-left-width:3px;border-right-width:3px;border-top-width:3.5px;color:#222"></i></td><td class="p" colspan="2"><span style="letter-spacing:-0.00px;margin-right:0.00px">Abarquez, Loise</span></td><td class="p" colspan="2" style="padding-left:3px"><span style="letter-spacing:0.17px;margin-right:-0.17px">Loise Maica</span></td><td colspan="2"><div class="bl"><span class="bd" style="width:93px"><span style="letter-spacing:0.29px;margin-right:-0.29px">Applicant Ume</span></span></div></td><td colspan="2"></td><td colspan="2"></td><td class="p" colspan="2" style="padding-left:3.5px"><a><span style="letter-spacing:0.46px;margin-right:-0.46px">loisemaica.abarquez@albertahealthservices.ca</span></a></td><td></td></tr>
<tr style="height:31px"><td><span style="position:absolute;left:5px;top:50%;margin-top:-7px"><svg width="15" height="12" viewBox="0 0 15 13" fill="currentColor" preserveAspectRatio="none"><rect x="0" y="0" width="15" height="13" rx="1.8" fill="#4f2683"/><circle cx="4.8" cy="4.8" r="1.5" fill="#efeaf6"/><path d="M2.2 9.6 C2.2 8 3.2 7.4 4.8 7.4 C6.4 7.4 7.4 8 7.4 9.6 Z" fill="#efeaf6"/><rect x="9" y="3.8" width="4" height="1.1" fill="#efeaf6" opacity="0.8"/><rect x="9" y="6.4" width="4" height="1.1" fill="#efeaf6"/></svg></span><i class="caret" style="position:absolute;left:27px;top:50%;margin:-3px 0 0 0;border-left-width:3px;border-right-width:3px;border-top-width:3.5px;color:#222"></i></td><td class="p" colspan="2"><span style="letter-spacing:0.01px;margin-right:-0.01px">Abasi, Ali</span></td><td class="p" colspan="2" style="padding-left:3px"><span style="letter-spacing:-0.04px;margin-right:0.04px">Ali</span></td><td colspan="2"><div class="bl"><span class="bd" style="width:39px"><span style="letter-spacing:0.64px;margin-right:-0.64px">Staff</span></span></div></td><td colspan="2"><div class="bl"><span class="bd" style="width:93.2px"><span style="letter-spacing:0.30px;margin-right:-0.30px">Biochemistry •</span></span></div></td><td colspan="2"><div class="bl" style="margin-left:3.9px"><span class="bd" style="width:60px"><span style="letter-spacing:0.48px;margin-right:-0.48px">370300 •</span></span></div></td><td class="p" colspan="2" style="padding-left:3.5px"><a><span style="letter-spacing:0.49px;margin-right:-0.49px">aabasi@uwo.ca</span></a></td><td></td></tr>
</tbody></table>
<div id="pg">
<span style="left:0px;width:35px;background:#ececec;color:#8a8a8a;border-left:0;border-radius:5px 0 0 5px;font-size:12.5px;line-height:33px;">«</span>
<span style="left:35px;width:36px;background:#ececec;color:#8a8a8a;font-size:12.5px;line-height:33px;">‹</span>
<span style="left:71px;width:37px;background:#0b6fd6;color:#fff;border-color:#0b6fd6;top:-1px;height:37px;line-height:37px;">1</span>
<span style="left:108px;width:36px;">2</span>
<span style="left:144px;width:36px;">3</span>
<span style="left:180px;width:36px;">4</span>
<span style="left:216px;width:36px;">5</span>
<span style="left:252px;width:36px;font-size:12.5px;line-height:33px;color:#6c757d;">›</span>
<span style="left:288px;width:36px;font-size:12.5px;line-height:33px;color:#6c757d;">»</span>
</div>
<div id="cnt">1 - 20 of 72,226</div>
</div>
<div id="vs"><i style="position:absolute;left:3px;top:5px;border-left:4.5px solid transparent;border-right:4.5px solid transparent;border-bottom:6.5px solid #8b8b8b"></i><i style="position:absolute;left:3.3px;top:17.8px;width:8.5px;height:855px;border-radius:4.2px;background:#8c8c8c"></i><i style="position:absolute;left:3px;top:934.5px;border-left:4.5px solid transparent;border-right:4.5px solid transparent;border-top:6.5px solid #8b8b8b"></i></div>
<div id="hs"><i style="position:absolute;left:5.5px;top:3px;border-top:4.5px solid transparent;border-bottom:4.5px solid transparent;border-right:6.5px solid #8b8b8b"></i><i style="position:absolute;left:18px;top:2.7px;width:481px;height:8.5px;border-radius:4.2px;background:#8c8c8c"></i><i style="position:absolute;left:1270px;top:3px;border-top:4.5px solid transparent;border-bottom:4.5px solid transparent;border-left:6.5px solid #8b8b8b"></i></div>
</body></html>
